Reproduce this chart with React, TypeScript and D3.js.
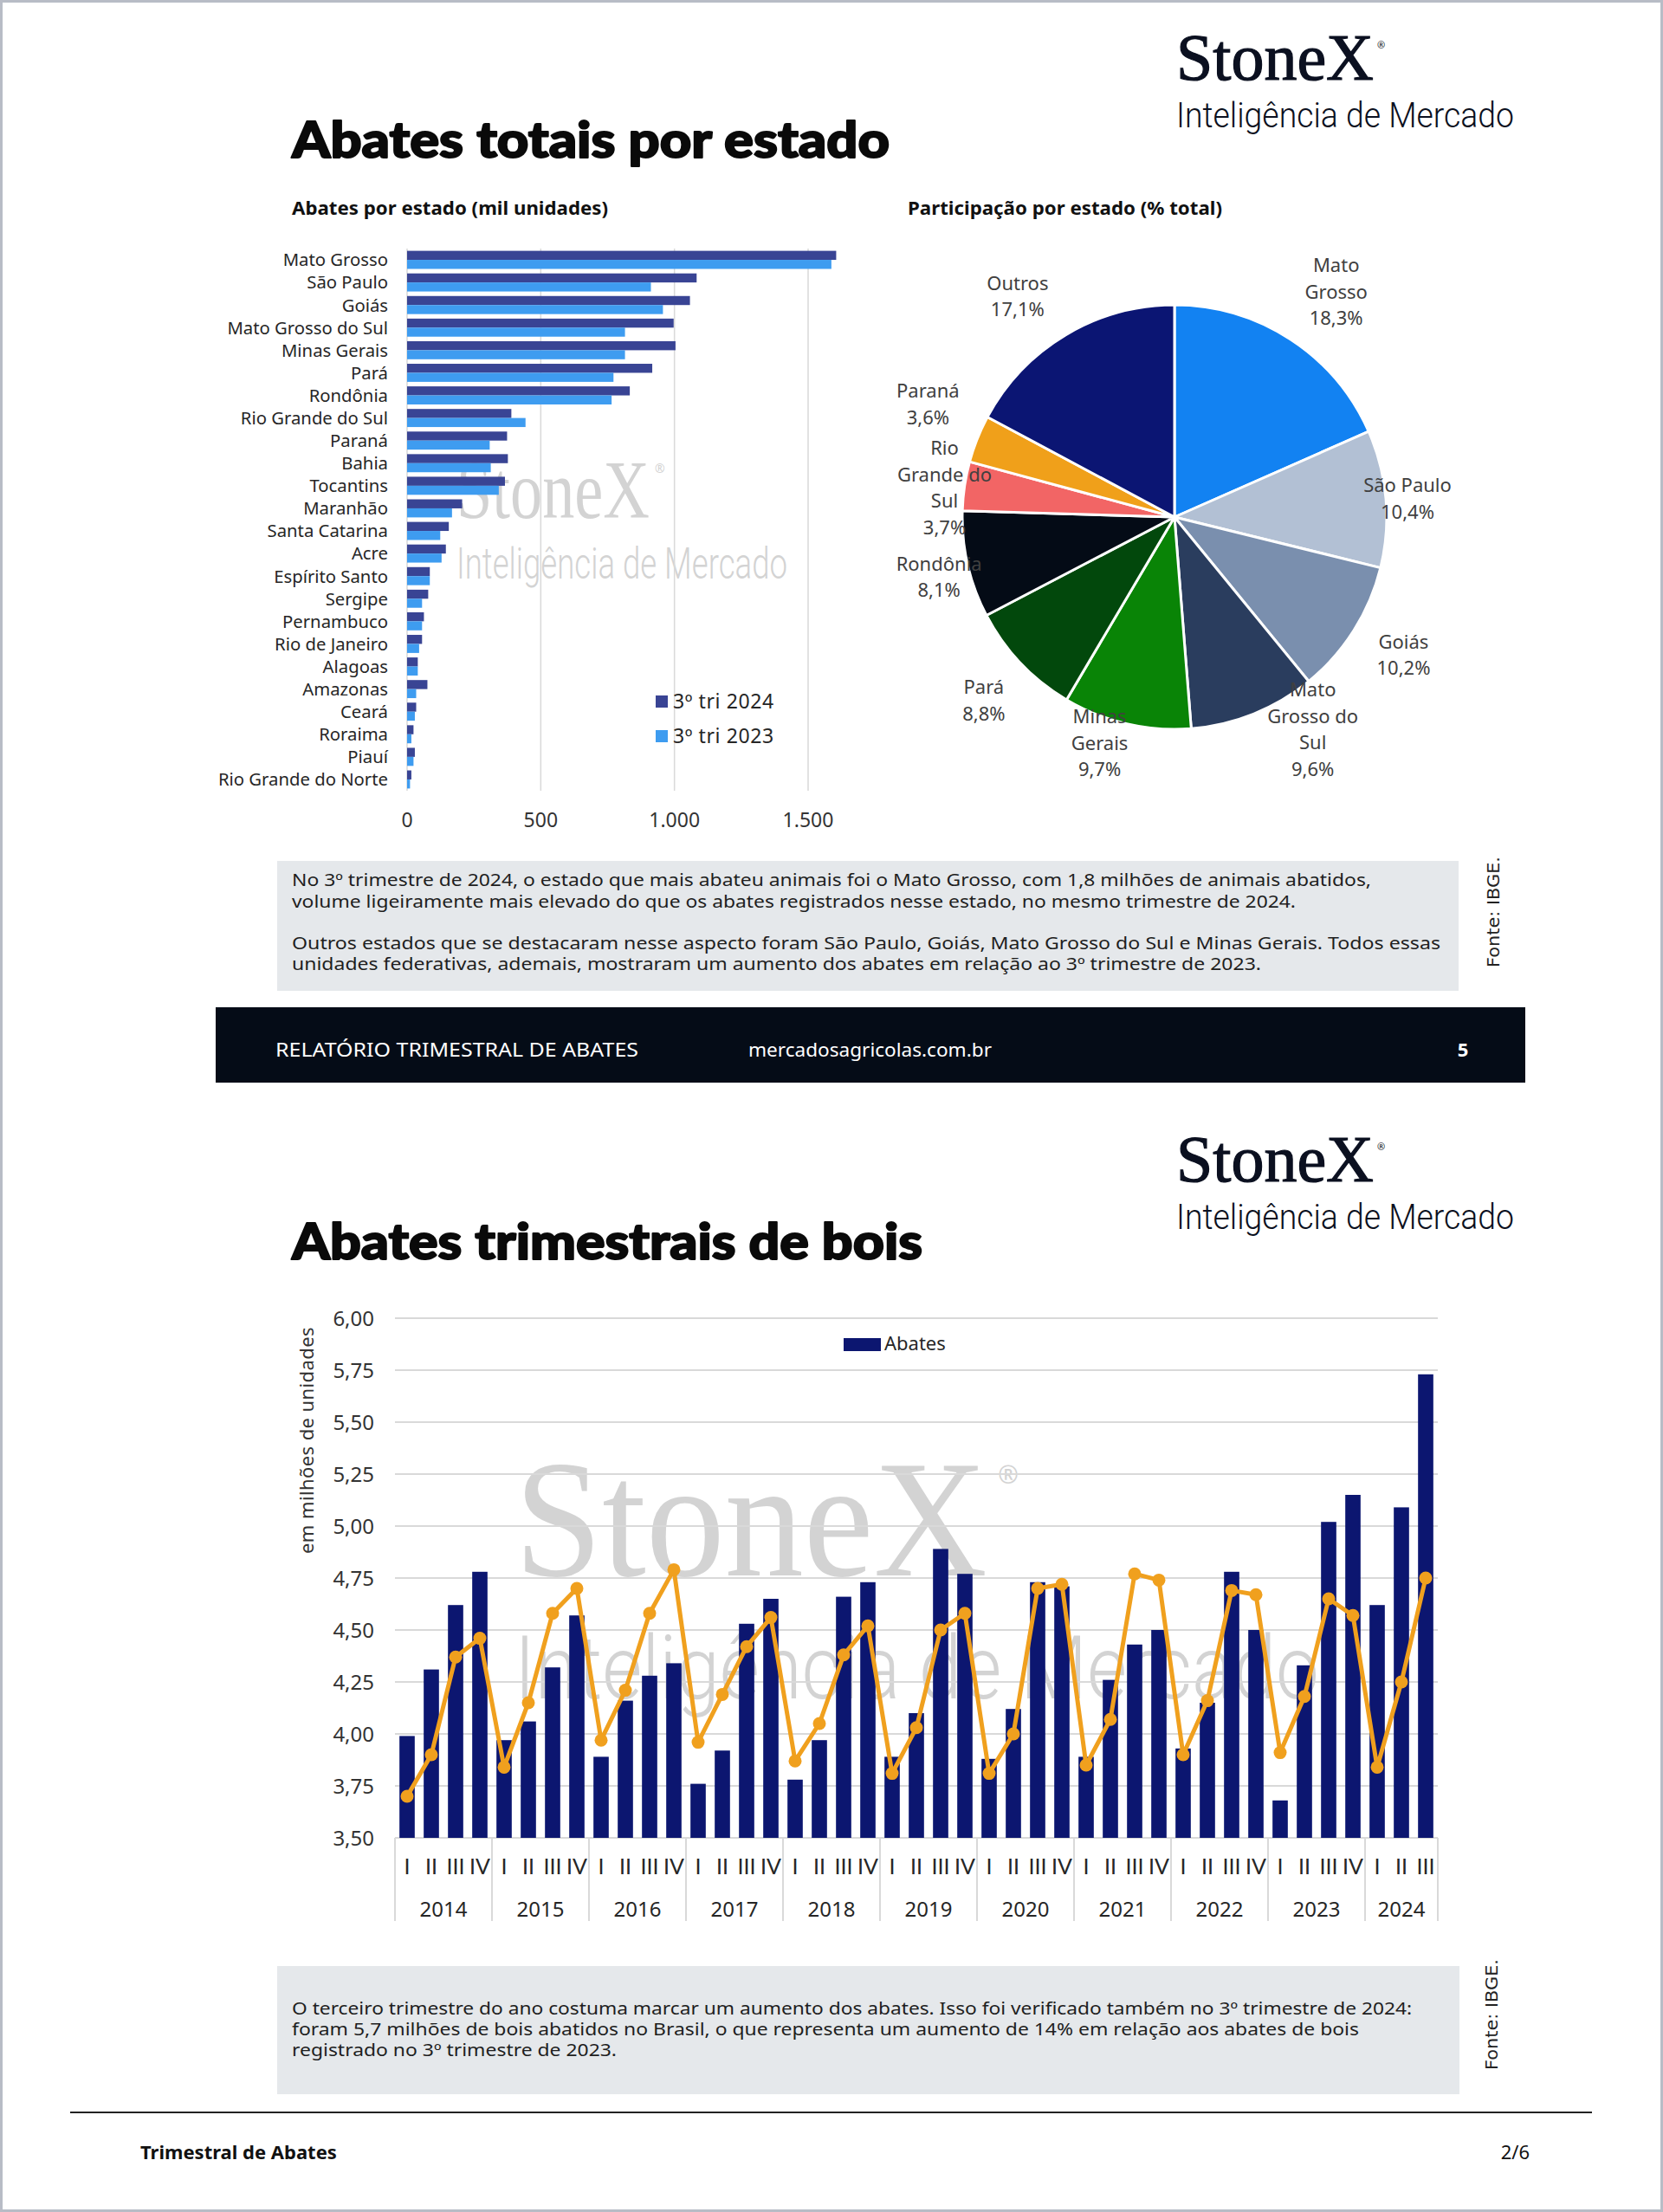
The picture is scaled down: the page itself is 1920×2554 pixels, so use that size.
import React from "react";
import * as d3 from "d3";

const FONT = "'Noto Sans', 'Open Sans', sans-serif";
const TITLE_FONT = "Lato, 'Noto Sans', sans-serif";
const SERIF = "'Liberation Serif', 'DejaVu Serif', serif";
const LIGHT = "Roboto, 'Noto Sans', sans-serif";

// ---------- Chart 1: Abates por estado (mil unidades) ----------
const estados = [
  "Mato Grosso", "São Paulo", "Goiás", "Mato Grosso do Sul", "Minas Gerais", "Pará", "Rondônia",
  "Rio Grande do Sul", "Paraná", "Bahia", "Tocantins", "Maranhão", "Santa Catarina", "Acre",
  "Espírito Santo", "Sergipe", "Pernambuco", "Rio de Janeiro", "Alagoas", "Amazonas", "Ceará",
  "Roraima", "Piauí", "Rio Grande do Norte",
];
const tri2024 = [1605, 1083, 1058, 997, 1004, 917, 833, 390, 374, 377, 366, 206, 156, 145, 85, 79, 63, 56, 40, 76, 34, 24, 29, 16];
const tri2023 = [1587, 912, 957, 815, 815, 772, 765, 443, 309, 313, 343, 168, 124, 129, 85, 56, 56, 45, 40, 34, 29, 16, 24, 11];
const ticksBarras = [0, 500, 1000, 1500];
const serie1Nome = "3º tri 2024";
const serie2Nome = "3º tri 2023";

// ---------- Chart 2: Participação por estado ----------
const fatiasNomes = ["Mato Grosso", "São Paulo", "Goiás", "Mato Grosso do Sul", "Minas Gerais", "Pará", "Rondônia", "Rio Grande do Sul", "Paraná", "Outros"];
const fatiasValores = [18.3, 10.4, 10.2, 9.6, 9.7, 8.8, 8.1, 3.7, 3.6, 17.1];
const fatiasRotulos: string[][] = [
  ["Mato", "Grosso"], ["São Paulo"], ["Goiás"], ["Mato", "Grosso do", "Sul"], ["Minas", "Gerais"],
  ["Pará"], ["Rondônia"], ["Rio", "Grande do", "Sul"], ["Paraná"], ["Outros"],
];
const fatiasCores = ["#1282f2", "#b2c0d4", "#7a8fae", "#2a3d5e", "#098406", "#02480c", "#040b16", "#f26565", "#f0a01a", "#0b1573"];
// label placement (radius factor, angle offset in degrees)
const rotuloRaio = [1.29, 1.1, 1.27, 1.21, 1.14, 1.26, 1.15, 1.09, 1.27, 1.26];
const rotuloDesvio = [3.1, 1.5, -0.5, -10.7, 5, -1, -2.3, -2.2, 2.2, -5];

// ---------- Chart 3: Abates trimestrais de bois ----------
const anos = ["2014", "2015", "2016", "2017", "2018", "2019", "2020", "2021", "2022", "2023", "2024"];
const trimestresRomanos = ["I", "II", "III", "IV"];
const trimestresPorAno = [4, 4, 4, 4, 4, 4, 4, 4, 4, 4, 3];
const abates = [
  3.99, 4.31, 4.62, 4.78,
  3.97, 4.06, 4.32, 4.57,
  3.89, 4.16, 4.28, 4.34,
  3.76, 3.92, 4.53, 4.65,
  3.78, 3.97, 4.66, 4.73,
  3.89, 4.10, 4.89, 4.77,
  3.88, 4.12, 4.73, 4.71,
  3.89, 4.26, 4.43, 4.50,
  3.93, 4.15, 4.78, 4.50,
  3.68, 4.33, 5.02, 5.15,
  4.62, 5.09, 5.73,
];
const serieLinha = [
  3.70, 3.90, 4.37, 4.46,
  3.84, 4.15, 4.58, 4.70,
  3.97, 4.21, 4.58, 4.79,
  3.96, 4.19, 4.42, 4.56,
  3.87, 4.05, 4.38, 4.52,
  3.81, 4.03, 4.50, 4.58,
  3.81, 4.00, 4.70, 4.72,
  3.85, 4.07, 4.77, 4.74,
  3.90, 4.16, 4.69, 4.67,
  3.91, 4.18, 4.65, 4.57,
  3.84, 4.25, 4.75,
];
const ticksY2 = [3.5, 3.75, 4.0, 4.25, 4.5, 4.75, 5.0, 5.25, 5.5, 5.75, 6.0];

const texto1 = [
  { t: "No 3º trimestre de 2024, o estado que mais abateu animais foi o Mato Grosso, com 1,8 milhões de animais abatidos,", w: 1246, y: 1023 },
  { t: "volume ligeiramente mais elevado do que os abates registrados nesse estado, no mesmo trimestre de 2024.", w: 1159, y: 1048 },
  { t: "Outros estados que se destacaram nesse aspecto foram São Paulo, Goiás, Mato Grosso do Sul e Minas Gerais. Todos essas", w: 1326, y: 1096 },
  { t: "unidades federativas, ademais, mostraram um aumento dos abates em relação ao 3º trimestre de 2023.", w: 1119, y: 1120 },
];
const texto2 = [
  { t: "O terceiro trimestre do ano costuma marcar um aumento dos abates. Isso foi verificado também no 3º trimestre de 2024:", w: 1293, y: 2326 },
  { t: "foram 5,7 milhões de bois abatidos no Brasil, o que representa um aumento de 14% em relação aos abates de bois", w: 1232, y: 2350 },
  { t: "registrado no 3º trimestre de 2023.", w: 375, y: 2374 },
];

const locale = d3.formatLocale({ decimal: ",", thousands: ".", grouping: [3], currency: ["R$", ""] });
const fmtMil = locale.format(",.0f");
const fmt2 = locale.format(".2f");
const fmt1 = locale.format(".1f");

function Logo({ dy }: { dy: number }) {
  return (
    <g transform={`translate(0,${dy})`}>
      <text x={1358} y={92} fontFamily={SERIF} fontSize={76} fill="#0b1020" stroke="#0b1020" strokeWidth={1.2} textLength={228} lengthAdjust="spacingAndGlyphs">StoneX</text>
      <text x={1590} y={56} fontFamily={FONT} fontSize={11} fill="#0b1020">®</text>
      <text x={1358} y={147} fontFamily={LIGHT} fontWeight={300} fontSize={41} fill="#0b1020" textLength={390} lengthAdjust="spacingAndGlyphs">Inteligência de Mercado</text>
    </g>
  );
}

function Watermark({ x, y, s, w1, w2 }: { x: number; y: number; s: number; w1: number; w2: number }) {
  return (
    <g fill="#d3d3d3">
      <text x={x} y={y} fontFamily={SERIF} fontSize={95 * s} textLength={w1} lengthAdjust="spacingAndGlyphs">StoneX</text>
      <text x={x + w1 + 6 * s} y={y - 52 * s} fontFamily={FONT} fontSize={14 * s}>®</text>
      <text x={x} y={y + 70 * s} fontFamily={LIGHT} fontWeight={300} fontSize={50 * s} textLength={w2} lengthAdjust="spacingAndGlyphs">Inteligência de Mercado</text>
    </g>
  );
}

export default function App() {
  const W = 1920, H = 2554;

  // Chart 1 scales
  const x1 = d3.scaleLinear().domain([0, 1500]).range([470, 933]);
  const y1 = d3.scaleBand<string>().domain(estados).range([287, 913]).paddingInner(0.2).paddingOuter(0.1);
  const bh = y1.bandwidth() / 2;

  // Pie
  const cx = 1356, cy = 597, R = 245;
  const arcs = d3.pie<number>().sort(null).value((d) => d)(fatiasValores);
  const arcGen = d3.arc<d3.PieArcDatum<number>>().innerRadius(0).outerRadius(R);

  // Chart 3 scales
  const keys: string[] = [];
  const anoDe: string[] = [];
  const triDe: string[] = [];
  anos.forEach((a, i) => {
    for (let q = 0; q < trimestresPorAno[i]; q++) {
      keys.push(`${a}-${trimestresRomanos[q]}`);
      anoDe.push(a);
      triDe.push(trimestresRomanos[q]);
    }
  });
  const x2 = d3.scaleBand<string>().domain(keys).range([456, 1660]).paddingInner(0.37).paddingOuter(0.185);
  const y2 = d3.scaleLinear().domain([3.5, 6]).range([2122, 1522]);
  const bw = x2.bandwidth();
  const cxq = (k: string) => (x2(k) as number) + bw / 2;
  const linePath = d3.line<number>().x((_, i) => cxq(keys[i])).y((d) => y2(d))(serieLinha) || "";
  const step = x2.step();
  const yearStarts: number[] = [];
  let idx = 0;
  anos.forEach((_, i) => {
    yearStarts.push((x2(keys[idx]) as number) - (step * x2.paddingInner()) / 2);
    idx += trimestresPorAno[i];
  });
  yearStarts.push(x2.range()[1]);

  return (
    <svg width={W} height={H} viewBox={`0 0 ${W} ${H}`} style={{ position: "absolute", left: 0, top: 0, display: "block", background: "#fff" }}>
      <rect x={0} y={0} width={W} height={H} fill="#ffffff" />
      <rect x={1.5} y={1.5} width={W - 3} height={H - 3} fill="none" stroke="#b8bcc6" strokeWidth={3} />

      {/* ===== Page 1 header ===== */}
      <Logo dy={0} />
      <text x={337} y={182} fontFamily={TITLE_FONT} fontWeight={900} fontSize={58} fill="#0a0a0a" stroke="#0a0a0a" strokeWidth={2} strokeLinejoin="round" textLength={690} lengthAdjust="spacingAndGlyphs">Abates totais por estado</text>

      {/* ===== Chart 1: horizontal bars ===== */}
      <text x={337} y={248} fontFamily={FONT} fontWeight={700} fontSize={21} fill="#111" textLength={365} lengthAdjust="spacingAndGlyphs">Abates por estado (mil unidades)</text>
      <Watermark x={527} y={598} s={1} w1={223} w2={382} />
      {ticksBarras.map((t) => (
        <g key={t}>
          <line x1={x1(t)} x2={x1(t)} y1={287} y2={913} stroke="#d9d9d9" strokeWidth={1.5} />
          <text x={x1(t)} y={955} textAnchor="middle" fontFamily={FONT} fontSize={23} fill="#333">{fmtMil(t)}</text>
        </g>
      ))}
      {estados.map((e, i) => {
        const y = y1(e) as number;
        return (
          <g key={e}>
            <rect x={x1(0)} y={y} width={x1(tri2024[i]) - x1(0)} height={bh} fill="#394494" />
            <rect x={x1(0)} y={y + bh} width={x1(tri2023[i]) - x1(0)} height={bh} fill="#3e9cf0" />
            <text x={448} y={y + bh} dy="0.36em" textAnchor="end" fontFamily={FONT} fontSize={20.3} fill="#262626">{e}</text>
          </g>
        );
      })}
      <rect x={757} y={803} width={14} height={14} fill="#394494" />
      <text x={777} y={818} fontFamily={FONT} fontSize={23} fill="#262626" letterSpacing={0.6}>{serie1Nome}</text>
      <rect x={757} y={843} width={14} height={14} fill="#3e9cf0" />
      <text x={777} y={858} fontFamily={FONT} fontSize={23} fill="#262626" letterSpacing={0.6}>{serie2Nome}</text>

      {/* ===== Chart 2: pie ===== */}
      <text x={1048} y={248} fontFamily={FONT} fontWeight={700} fontSize={21} fill="#111" textLength={363} lengthAdjust="spacingAndGlyphs">Participação por estado (% total)</text>
      <g transform={`translate(${cx},${cy})`}>
        {arcs.map((a, i) => (
          <path key={i} d={arcGen(a) || ""} fill={fatiasCores[i]} stroke="#ffffff" strokeWidth={3} strokeLinejoin="round" />
        ))}
      </g>
      {arcs.map((a, i) => {
        const ang = (a.startAngle + a.endAngle) / 2 + (rotuloDesvio[i] * Math.PI) / 180;
        const rr = R * rotuloRaio[i];
        const lx = cx + rr * Math.sin(ang);
        const ly = cy - rr * Math.cos(ang);
        const lines = [...fatiasRotulos[i], `${fmt1(fatiasValores[i])}%`];
        const lh = 30.5;
        const first = ly - ((lines.length - 1) * lh) / 2 + 3;
        return (
          <text key={i} textAnchor="middle" fontFamily={FONT} fontSize={22} fill="#404040">
            {lines.map((l, j) => (
              <tspan key={j} x={lx} y={first + j * lh}>{l}</tspan>
            ))}
          </text>
        );
      })}

      {/* ===== Text box 1 ===== */}
      <rect x={320} y={994} width={1364} height={150} fill="#e5e8eb" />
      {texto1.map((l, i) => (
        <text key={i} x={337} y={l.y} fontFamily={FONT} fontSize={20} fill="#1e1e1e" textLength={l.w} lengthAdjust="spacingAndGlyphs">{l.t}</text>
      ))}
      <text transform="translate(1731,1117) rotate(-90)" fontFamily="'DejaVu Sans', sans-serif" fontSize={20} fill="#222" textLength={128} lengthAdjust="spacingAndGlyphs">Fonte: IBGE.</text>

      {/* ===== Footer band ===== */}
      <rect x={249} y={1163} width={1512} height={87} fill="#050c17" />
      <text x={318} y={1220} fontFamily={FONT} fontSize={22} fill="#ffffff" textLength={419} lengthAdjust="spacingAndGlyphs">RELATÓRIO TRIMESTRAL DE ABATES</text>
      <text x={864} y={1220} fontFamily={FONT} fontSize={22} fill="#ffffff" textLength={281} lengthAdjust="spacingAndGlyphs">mercadosagricolas.com.br</text>
      <text x={1689} y={1220} textAnchor="middle" fontFamily={FONT} fontWeight={700} fontSize={22} fill="#ffffff">5</text>

      {/* ===== Page 2 header ===== */}
      <Logo dy={1272} />
      <text x={337} y={1454} fontFamily={TITLE_FONT} fontWeight={900} fontSize={58} fill="#0a0a0a" stroke="#0a0a0a" strokeWidth={2} strokeLinejoin="round" textLength={728} lengthAdjust="spacingAndGlyphs">Abates trimestrais de bois</text>

      {/* ===== Chart 3: quarterly bars + line ===== */}
      <Watermark x={594} y={1819} s={2.03} w1={546} w2={929} />
      {ticksY2.map((t) => (
        <g key={t}>
          <line x1={456} x2={1660} y1={y2(t)} y2={y2(t)} stroke="#d9d9d9" strokeWidth={2} />
          <text x={432} y={y2(t)} dy="0.36em" textAnchor="end" fontFamily={FONT} fontSize={24} fill="#333">{fmt2(t)}</text>
        </g>
      ))}
      <text transform="translate(362,1663) rotate(-90)" textAnchor="middle" fontFamily={FONT} fontSize={22} fill="#333" letterSpacing={0.4}>em milhões de unidades</text>
      {abates.map((v, i) => (
        <rect key={i} x={x2(keys[i])} y={y2(v)} width={bw} height={y2(3.5) - y2(v)} fill="#0c1670" />
      ))}
      <path d={linePath} fill="none" stroke="#f0a01e" strokeWidth={5} strokeLinejoin="round" />
      {serieLinha.map((v, i) => (
        <circle key={i} cx={cxq(keys[i])} cy={y2(v)} r={7.5} fill="#f0a01e" />
      ))}
      <rect x={974} y={1545} width={43} height={15} fill="#0c1670" />
      <text x={1021} y={1559} fontFamily={FONT} fontSize={22} fill="#262626">Abates</text>

      {/* x axis */}
      {yearStarts.map((xx, i) => (
        <line key={i} x1={xx} x2={xx} y1={2122} y2={2218} stroke="#d9d9d9" strokeWidth={2} />
      ))}
      {keys.map((k, i) => (
        <text key={k} x={cxq(k)} y={2164} textAnchor="middle" fontFamily={TITLE_FONT} fontSize={25} fill="#262626">{triDe[i]}</text>
      ))}
      {anos.map((a) => {
        const ks = keys.filter((_, i) => anoDe[i] === a);
        const mx = d3.mean(ks, (k) => cxq(k)) as number;
        return (
          <text key={a} x={mx} y={2213} textAnchor="middle" fontFamily={FONT} fontSize={24} fill="#262626">{a}</text>
        );
      })}

      {/* ===== Text box 2 ===== */}
      <rect x={320} y={2270} width={1365} height={148} fill="#e5e8eb" />
      {texto2.map((l, i) => (
        <text key={i} x={337} y={l.y} fontFamily={FONT} fontSize={20} fill="#1e1e1e" textLength={l.w} lengthAdjust="spacingAndGlyphs">{l.t}</text>
      ))}
      <text transform="translate(1729,2390) rotate(-90)" fontFamily="'DejaVu Sans', sans-serif" fontSize={20} fill="#222" textLength={128} lengthAdjust="spacingAndGlyphs">Fonte: IBGE.</text>

      {/* ===== Page footer ===== */}
      <line x1={81} x2={1838} y1={2439} y2={2439} stroke="#222" strokeWidth={2} />
      <text x={162} y={2493} fontFamily={FONT} fontWeight={700} fontSize={22} fill="#111">Trimestral de Abates</text>
      <text x={1766} y={2493} textAnchor="end" fontFamily={FONT} fontSize={22} fill="#111">2/6</text>
    </svg>
  );
}
